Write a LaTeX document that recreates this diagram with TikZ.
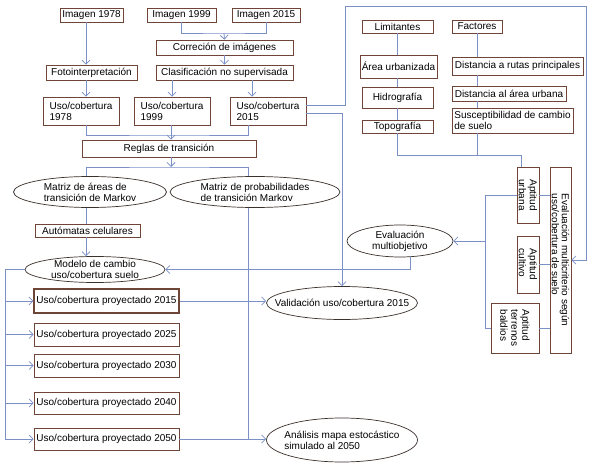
\documentclass[tikz,border=0pt]{standalone}
\usepackage{fontspec}
\setmainfont{Liberation Sans}
\usepackage{xcolor}
\usepackage{tikz}
\usetikzlibrary{arrows.meta,positioning,shapes.geometric,calc}
\definecolor{borde}{HTML}{6E4536}
\definecolor{linea}{HTML}{7C90C8}
\definecolor{contorno}{HTML}{3A302C}

\begin{document}
\begin{tikzpicture}[x=1pt, y=-1pt, every node/.style={align=center, font=\fontsize{10}{11}\selectfont}]
\tikzset{
  caja/.style={draw=borde, fill=white, line width=0.7pt, inner sep=1pt},
  elip/.style={ellipse, draw=contorno, fill=white, line width=0.7pt, inner ysep=0pt, inner xsep=-16pt},
  rot/.style={caja, rotate=-90, align=left},
  con/.style={draw=linea, line width=0.8pt},
  fl/.style={con, -{Straight Barb[length=4pt,width=8pt]}}
}
\path[use as bounding box, fill=white] (0,0) rectangle (592,468);

\node[caja, minimum width=63pt, minimum height=14pt] (img78) at (91.5,15) {Imagen 1978};
\node[caja, minimum width=69pt, minimum height=14pt] (img99) at (181.5,15) {Imagen 1999};
\node[caja, minimum width=68pt, minimum height=14pt] (img15) at (266,15) {Imagen 2015};
\node[caja, minimum width=137pt, minimum height=15pt] (correc) at (224.5,47.5) {Correción de imágenes};
\node[caja, minimum width=91pt, minimum height=15pt] (foto) at (91.5,72.5) {Fotointerpretación};
\node[caja, minimum width=137pt, minimum height=15pt] (clasif) at (224.5,72.5) {Clasificación no supervisada};
\node[caja, align=left, minimum width=76pt, minimum height=28pt] (uso78) at (81,111) {Uso/cobertura\\1978};
\node[caja, align=left, minimum width=76pt, minimum height=28pt] (uso99) at (172,111) {Uso/cobertura\\1999};
\node[caja, align=left, minimum width=76pt, minimum height=28pt] (uso15) at (268,111) {Uso/cobertura\\2015};
\node[caja, minimum width=174pt, minimum height=17pt] (reglas) at (169,148.5) {Reglas de transición};
\node[elip, align=left, minimum width=153pt, minimum height=31pt] (matArea) at (90,192) {Matriz de áreas de\\transición de Markov};
\node[elip, align=left, minimum width=170pt, minimum height=31pt] (matProb) at (255,192) {Matriz de probabilidades\\de transición Markov};
\node[caja, minimum width=105pt, minimum height=13pt] (autom) at (87.5,230.5) {Autómatas celulares};
\node[elip, minimum width=140pt, minimum height=26pt] (modelo) at (95,269.5) {Modelo de cambio\\uso/cobertura suelo};
\node[caja, line width=1.1pt, minimum width=145pt, minimum height=24pt] (proy15) at (106.5,301) {Uso/cobertura proyectado 2015};
\node[caja, minimum width=145pt, minimum height=23pt] (proy25) at (106.5,334.5) {Uso/cobertura proyectado 2025};
\node[caja, minimum width=145pt, minimum height=23pt] (proy30) at (106.5,365.5) {Uso/cobertura proyectado 2030};
\node[caja, minimum width=145pt, minimum height=22pt] (proy40) at (106.5,403) {Uso/cobertura proyectado 2040};
\node[caja, minimum width=145pt, minimum height=22pt] (proy50) at (106.5,439) {Uso/cobertura proyectado 2050};
\node[elip, minimum width=151pt, minimum height=33pt] (valid) at (342,303) {Validación uso/cobertura 2015};
\node[elip, align=left, minimum width=151pt, minimum height=44pt] (anal) at (342,440) {Análisis mapa estocástico\\simulado al 2050};
\node[elip, minimum width=106pt, minimum height=32pt] (evalMO) at (400,241) {Evaluación\\multiobjetivo};

\node[caja, minimum width=71pt, minimum height=13pt] (lim) at (397.5,26.5) {Limitantes};
\node[caja, minimum width=50pt, minimum height=13pt] (fac) at (477,26.5) {Factores};
\node[caja, minimum width=77pt, minimum height=23pt] (areaU) at (398.5,66.5) {Área urbanizada};
\node[caja, minimum width=71pt, minimum height=21pt] (hidro) at (397.5,97.5) {Hidrografía};
\node[caja, minimum width=71pt, minimum height=13pt] (topo) at (397.5,126.5) {Topografía};
\node[caja, minimum width=131pt, minimum height=18pt] (distR) at (517.5,66) {Distancia a rutas principales};
\node[caja, minimum width=114pt, minimum height=15pt] (distU) at (509,93.5) {Distancia al área urbana};
\node[caja, align=left, minimum width=121pt, minimum height=25pt] (susc) at (512.5,120.5) {Susceptibilidad de cambio\\de suelo};

\node[rot, minimum width=56pt, minimum height=22pt] (aptU) at (528,195) {Aptitud\\urbana};
\node[rot, minimum width=57pt, minimum height=22pt] (aptC) at (528,264.5) {Aptitud\\cultivo};
\node[rot, minimum width=50pt, minimum height=48pt] (aptB) at (515,328) {Aptitud\\terrenos\\baldios};
\node[rot, font=\fontsize{10}{10}\selectfont, minimum width=186pt, minimum height=21pt] (evalMC) at (560.5,260) {Evaluación multicriterio según\\uso/cobertura de suelo};

\coordinate (colA) at (86,0);
\coordinate (colD) at (252,0);
\coordinate (colE) at (248,0);
\coordinate (colIzq) at (5,0);
\coordinate (colG) at (485,0);
\coordinate (colMO) at (410,0);
\coordinate (juntaImg) at (224,33);
\coordinate (juntaUso) at (171,135);
\coordinate (juntaReg) at (171,167);
\coordinate (juntaApt) at (521,155);
\coordinate (esqA) at (345,6);
\coordinate (esqB) at (586,6);

\draw[fl] (img78.south -| colA) -- (foto.north -| colA);
\draw[con] (img99.south) |- (juntaImg) -| (img15.south);
\draw[fl] (juntaImg) -- (correc.north);
\draw[fl] (correc.south) -- (clasif.north);
\draw[fl] (foto.south -| colA) -- (uso78.north -| colA);
\draw[fl] (clasif.south -| uso99) -- (uso99.north);
\draw[fl] (clasif.south -| colD) -- (uso15.north -| colD);
\draw[con] (uso78.south -| colA) |- (juntaUso) -| (uso15.south -| colE);
\draw[fl] (uso99.south -| juntaUso) -- (reglas.north -| juntaUso);
\draw[fl] (reglas.south -| juntaReg) -- (juntaReg);
\draw[con] (matArea.north -| colA) |- (juntaReg) -| (matProb.north -| colE);
\draw[con] (matArea.south -| colA) -- (autom.north -| colA);
\draw[fl] (autom.south -| colA) -- (modelo.north -| colA);
\draw[con] (matProb.south -| colE) -- (colE |- proy50.east);
\draw[con] (modelo.west) -| (colIzq |- proy50.west);
\draw[fl] (colIzq |- proy15.west) -- (proy15.west);
\draw[fl] (colIzq |- proy25.west) -- (proy25.west);
\draw[fl] (colIzq |- proy30.west) -- (proy30.west);
\draw[fl] (colIzq |- proy40.west) -- (proy40.west);
\draw[fl] (colIzq |- proy50.west) -- (proy50.west);
\draw[fl] (proy15.east) -- (proy15.east -| valid.west);
\draw[fl] (proy50.east) -- (proy50.east -| anal.west);
\draw[fl] ($(uso15.east)+(0,2)$) -| (valid.north);
\draw[fl] ($(uso15.east)+(0,-6)$) -| (esqA) -- (esqB) |- (evalMC.north);
\draw[fl] (evalMO.south -| colMO) |- (modelo.east);

\draw[con] (lim.south) -- (lim.south |- areaU.north);
\draw[con] (lim.south |- areaU.south) -- (lim.south |- hidro.north);
\draw[con] (lim.south |- hidro.south) -- (lim.south |- topo.north);
\draw[con] (topo.south) |- (juntaApt) -- (juntaApt |- aptU.west);
\draw[con] (fac.south) -- (fac.south |- distR.north);
\draw[con] (fac.south |- distR.south) -- (fac.south |- distU.north);
\draw[con] (fac.south |- distU.south) -- (fac.south |- susc.north);
\draw[con] (fac.south |- susc.south) -- (fac.south |- juntaApt);

\draw[con] (aptU.north) -- (aptU.north -| evalMC.south);
\draw[con] (aptC.north) -- (aptC.north -| evalMC.south);
\draw[con] (aptB.north) -- (aptB.north -| evalMC.south);
\draw[con] (aptU.south) -| (colG |- aptB.south) -- (aptB.south);
\draw[fl] (colG |- evalMO.east) -- (evalMO.east);
\end{tikzpicture}
\end{document}
